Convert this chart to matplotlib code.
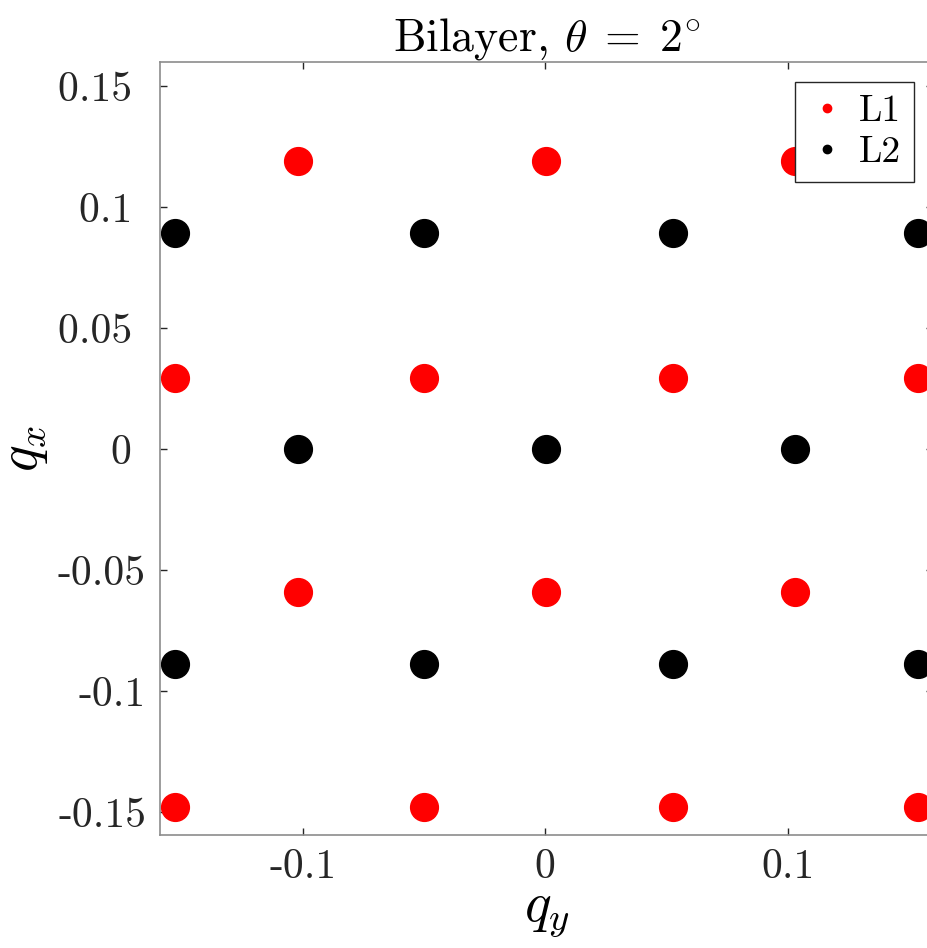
import matplotlib
matplotlib.use("Agg")
import matplotlib.pyplot as plt

# moire reciprocal lattice points (q_y, q_x)
l1_qy = [-0.102, 0.0004, 0.103,
         -0.153, -0.050, 0.0525, 0.154,
         -0.102, 0.0004, 0.103,
         -0.153, -0.050, 0.0525, 0.154]
l1_qx = [0.119, 0.119, 0.119,
         0.0293, 0.0293, 0.0293, 0.0293,
         -0.059, -0.059, -0.059,
         -0.148, -0.148, -0.148, -0.148]

l2_qy = [-0.153, -0.050, 0.0525, 0.154,
         -0.102, 0.0004, 0.103,
         -0.153, -0.050, 0.0525, 0.154]
l2_qx = [0.0893, 0.0893, 0.0893, 0.0893,
         0.0, 0.0, 0.0,
         -0.0888, -0.0888, -0.0888, -0.0888]

xticks = [-0.1, 0, 0.1]
xticklabels = ["-0.1", "0", "0.1"]
yticks = [-0.15, -0.1, -0.05, 0, 0.05, 0.1, 0.15]
# positive labels sit a little further from the axis in the original
yticklabels = ["-0.15", "-0.1", "-0.05", "0 ", "0.05 ", "0.1 ", "0.15 "]

plt.rcParams["font.family"] = "cmr10"
plt.rcParams["mathtext.fontset"] = "cm"
plt.rcParams["axes.unicode_minus"] = False

fig = plt.figure(figsize=(9.28, 9.48), dpi=100)
ax = fig.add_axes([160 / 928, 113 / 948, 773 / 928, 773 / 948])

ax.plot(l1_qy, l1_qx, "o", color="#ff0000", markersize=20, label="L1", clip_on=False)
ax.plot(l2_qy, l2_qx, "o", color="#000000", markersize=20, label="L2", clip_on=False)

ax.set_xlim(-0.159, 0.160)
ax.set_ylim(-0.1595, 0.16)
ax.set_xticks(xticks)
ax.set_xticklabels(xticklabels)
ax.set_yticks(yticks)
ax.set_yticklabels(yticklabels)

spine_c = "#8c8c8c"
for s in ax.spines.values():
    s.set_color(spine_c)
    s.set_linewidth(1.2)
ax.tick_params(direction="in", length=5, width=1, color="#262626",
               labelsize=30, labelcolor="#262626", top=True, right=True, pad=10)

ax.set_xlabel("$q_y$", fontsize=40, labelpad=2)
ax.set_ylabel("$q_x$", fontsize=40, labelpad=6)
ax.set_title(r"Bilayer, $\theta\; =\; 2^{\circ}$", fontsize=33, pad=8)

leg = ax.legend(loc="upper right", bbox_to_anchor=(0.975, 0.974), fontsize=27,
                markerscale=0.3, fancybox=False, framealpha=1, borderpad=0.35,
                handlelength=1.0, handletextpad=0.35, borderaxespad=0,
                labelspacing=0.2)
leg.get_frame().set_edgecolor("#262626")
leg.get_frame().set_linewidth(1)

fig.savefig("out.png", dpi=100)
